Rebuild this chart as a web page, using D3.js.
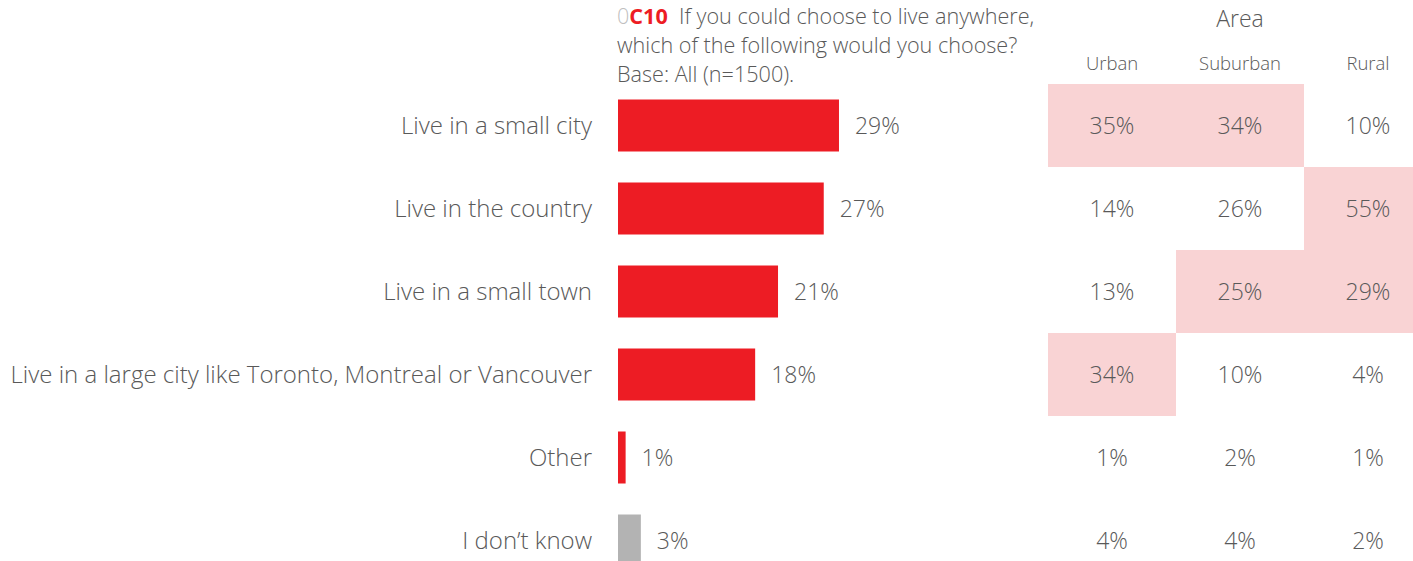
<!DOCTYPE html>
<html>
<head>
<meta charset="utf-8">
<script src="https://cdn.jsdelivr.net/npm/d3@7"></script>
<style>
  html, body { margin: 0; padding: 0; background: #fff; }
  svg { display: block; font-family: "Open Sans", sans-serif; font-weight: 300; }
</style>
</head>
<body>
<svg id="chart" width="1413" height="561"></svg>
<script>
// Survey answers, total sample
const categories = [
  "Live in a small city",
  "Live in the country",
  "Live in a small town",
  "Live in a large city like Toronto, Montreal or Vancouver",
  "Other",
  "I don\u2019t know"
];
const totals = [29, 27, 21, 18, 1, 3];

// Breakdown by area
const areas = ["Urban", "Suburban", "Rural"];
const urban = [35, 14, 13, 34, 1, 4];
const suburban = [34, 26, 25, 10, 2, 4];
const rural = [10, 55, 29, 4, 1, 2];
// Cells flagged as notably higher for that area (1 = shaded)
const urbanFlag = [1, 0, 0, 1, 0, 0];
const suburbanFlag = [1, 0, 1, 0, 0, 0];
const ruralFlag = [0, 1, 1, 0, 0, 0];

const svg = d3.select("#chart");
const textCol = "#595959";
const red = "#ed1c24";

// Rows share one band scale for bars and table
const y = d3.scaleBand().domain(categories).range([84, 84 + 83 * 6]);
const x = d3.scaleLinear().domain([0, 100]).range([618, 618 + 762]);

const barH = 52;
const rows = categories.map((c, i) => ({ c, v: totals[i], i }));
const mid = c => y(c) + y.bandwidth() / 2;

// Category labels
svg.append("g").selectAll("text").data(rows).join("text")
  .attr("x", 592)
  .attr("y", d => mid(d.c))
  .attr("dy", "0.35em")
  .attr("text-anchor", "end")
  .attr("fill", textCol)
  .style("font-size", "24px")
  .text(d => d.c);

// Bars
svg.append("g").selectAll("rect").data(rows).join("rect")
  .attr("x", x(0))
  .attr("y", d => mid(d.c) - barH / 2)
  .attr("width", d => x(d.v) - x(0))
  .attr("height", barH)
  .attr("fill", d => d.c === "I don\u2019t know" ? "#b3b3b3" : red);

// Bar value labels
svg.append("g").selectAll("text").data(rows).join("text")
  .attr("x", d => x(d.v) + 16)
  .attr("y", d => mid(d.c))
  .attr("dy", "0.35em")
  .attr("fill", textCol)
  .style("font-size", "23px")
  .text(d => d.v + "%");

// Question header
const q = svg.append("g").attr("fill", textCol).style("font-size", "21.6px");
const t1 = q.append("text").attr("x", 617).attr("y", 24);
t1.append("tspan").attr("fill", "#bfbfbf").text("0");
t1.append("tspan").attr("fill", red).style("font-weight", 700).text("C10");
t1.append("tspan").text("\u00a0 If you could choose to live anywhere,");
q.append("text").attr("x", 617).attr("y", 53).text("which of the following would you choose?");
q.append("text").attr("x", 617).attr("y", 82).text("Base: All (n=1500).");

// Area table
const cx = d3.scaleBand().domain(areas).range([1048, 1048 + 128 * 3]);
const cols = [urban, suburban, rural];
const flags = [urbanFlag, suburbanFlag, ruralFlag];
const cells = [];
areas.forEach((a, j) => categories.forEach((c, i) => cells.push({ a, c, v: cols[j][i], f: flags[j][i] })));

svg.append("g").attr("shape-rendering", "crispEdges")
  .selectAll("rect").data(cells.filter(d => d.f)).join("rect")
  .attr("x", d => cx(d.a))
  .attr("y", d => y(d.c))
  .attr("width", cx.bandwidth())
  .attr("height", y.bandwidth())
  .attr("fill", "#f9d3d4");

svg.append("g").selectAll("text").data(cells).join("text")
  .attr("x", d => cx(d.a) + cx.bandwidth() / 2)
  .attr("y", d => mid(d.c))
  .attr("dy", "0.35em")
  .attr("text-anchor", "middle")
  .attr("fill", textCol)
  .style("font-size", "23px")
  .text(d => d.v + "%");

svg.append("g").selectAll("text").data(areas).join("text")
  .attr("x", d => cx(d) + cx.bandwidth() / 2)
  .attr("y", 70)
  .attr("text-anchor", "middle")
  .attr("fill", textCol)
  .style("font-size", "18.5px")
  .text(d => d);

svg.append("text")
  .attr("x", cx("Suburban") + cx.bandwidth() / 2)
  .attr("y", 27)
  .attr("text-anchor", "middle")
  .attr("fill", textCol)
  .style("font-size", "23px")
  .text("Area");
</script>
</body>
</html>
